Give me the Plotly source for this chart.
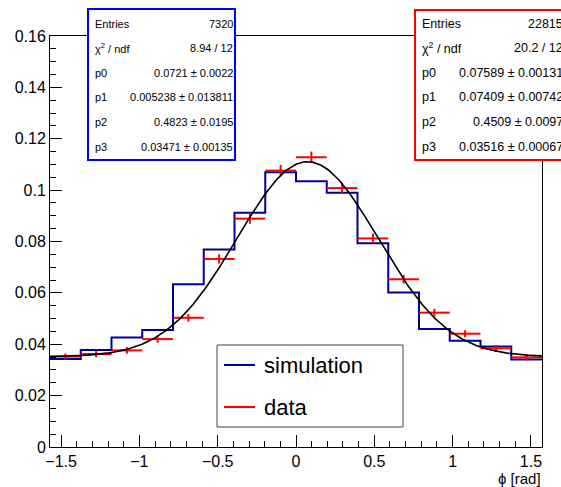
import numpy as np
import plotly.graph_objects as go

# ---------------- data ----------------
n_bins = 16
x_min, x_max = -np.pi / 2, np.pi / 2

simulation = [0.0343, 0.0378, 0.0426, 0.0455, 0.0634, 0.0769, 0.0912, 0.1070,
              0.1035, 0.0990, 0.0793, 0.0601, 0.0459, 0.0414, 0.0391, 0.0341]
data_vals = [0.0352, 0.0362, 0.0376, 0.0420, 0.0503, 0.0732, 0.0889, 0.1076,
             0.1128, 0.1008, 0.0812, 0.0653, 0.0523, 0.0441, 0.0384, 0.0349]
data_errs = [0.0012, 0.0013, 0.0013, 0.0014, 0.0015, 0.0018, 0.0020, 0.0022,
             0.0022, 0.0021, 0.0019, 0.0017, 0.0015, 0.0014, 0.0013, 0.0012]

# fit parameters (gaus + const) as printed in the stats boxes
fit_data = {"p0": 0.07589, "p1": 0.07409, "p2": 0.4509, "p3": 0.03516}

stats_sim = [("Entries", "7320"), ("χ<sup>2</sup> / ndf", "8.94 / 12"),
             ("p0", "0.0721 ± 0.0022"), ("p1", "0.005238 ± 0.013811"),
             ("p2", "0.4823 ± 0.0195"), ("p3", "0.03471 ± 0.00135")]
stats_data = [("Entries", "22815"), ("χ<sup>2</sup> / ndf", "20.2 / 12"),
              ("p0", "0.07589 ± 0.00131"), ("p1", "0.07409 ± 0.00742"),
              ("p2", "0.4509 ± 0.0097"), ("p3", "0.03516 ± 0.00067")]

y_ticks = [0, 0.02, 0.04, 0.06, 0.08, 0.1, 0.12, 0.14, 0.16]
y_tick_labels = ["0", "0.02", "0.04", "0.06", "0.08", "0.1", "0.12", "0.14", "0.16"]
x_ticks = [-1.5, -1, -0.5, 0, 0.5, 1, 1.5]
x_tick_labels = ["\u22121.5", "\u22121", "\u22120.5", "0", "0.5", "1", "1.5"]

# ---------------- derived ----------------
edges = np.linspace(x_min, x_max, n_bins + 1)
centers = 0.5 * (edges[:-1] + edges[1:])
half_w = [(edges[1] - edges[0]) / 2] * n_bins
xf = np.linspace(x_min, x_max, 300)
yf = fit_data["p0"] * np.exp(-0.5 * ((xf - fit_data["p1"]) / fit_data["p2"]) ** 2) + fit_data["p3"]

W, H = 561, 487
L, R, T, B = 50, 19, 36, 40
pw, ph = W - L - R, H - T - B


def px(x):
    return (x - L) / pw


def py(y):
    return (H - B - y) / ph


FONT = "Liberation Sans, Arial, Helvetica, sans-serif"
BLUE_H = "#000099"
BLUE_B = "#0000ff"
RED = "#ff0000"

fig = go.Figure()
fig.add_trace(go.Scatter(x=edges, y=list(simulation) + [simulation[-1]], mode="lines",
                         line=dict(color=BLUE_H, width=2, shape="hv"),
                         name="simulation", showlegend=False))
fig.add_trace(go.Scatter(x=centers, y=data_vals, mode="markers",
                         marker=dict(color=RED, size=1),
                         error_x=dict(type="data", array=half_w, color=RED, thickness=2, width=0),
                         error_y=dict(type="data", array=data_errs, color=RED, thickness=2, width=0),
                         name="data", showlegend=False))
fig.add_trace(go.Scatter(x=xf, y=yf, mode="lines", line=dict(color="black", width=1.6),
                         showlegend=False))

shapes = []
annotations = []


def stats_box(x0, x1, y0, y1, color, rows, lx, vx, fs):
    shapes.append(dict(type="rect", xref="paper", yref="paper", x0=px(x0), x1=px(x1),
                       y0=py(y1), y1=py(y0), line=dict(color=color, width=2),
                       fillcolor="white", layer="above"))
    ys = [24, 48.3, 72.7, 97.3, 121.7, 146.7]
    for (lab, val), yy in zip(rows, ys):
        annotations.append(dict(xref="paper", yref="paper", x=px(lx), y=py(yy), text=lab,
                                showarrow=False, xanchor="left", yanchor="middle",
                                font=dict(family=FONT, size=fs, color="black"), borderpad=0))
        annotations.append(dict(xref="paper", yref="paper", x=px(vx), y=py(yy), text=val,
                                showarrow=False, xanchor="right", yanchor="middle",
                                font=dict(family=FONT, size=fs, color="black"), borderpad=0))


stats_box(88, 235, 9, 160, BLUE_B, stats_sim, 94, 234, 11)
stats_box(415, 620, 10, 160, RED, stats_data, 421, 564, 12.5)

# legend box
shapes.append(dict(type="rect", xref="paper", yref="paper", x0=px(217), x1=px(403),
                   y0=py(427), y1=py(345), line=dict(color="#444444", width=1),
                   fillcolor="white", layer="above"))
for name, col, yy in [("simulation", BLUE_H, 365), ("data", RED, 407)]:
    shapes.append(dict(type="line", xref="paper", yref="paper", x0=px(224), x1=px(255),
                       y0=py(yy), y1=py(yy), line=dict(color=col, width=2), layer="above"))
    annotations.append(dict(xref="paper", yref="paper", x=px(262), y=py(yy), text=name,
                            showarrow=False, xanchor="left", yanchor="middle",
                            font=dict(family=FONT, size=22, color="black")))

# x axis title
annotations.append(dict(xref="paper", yref="paper", x=px(543), y=py(479), text="ϕ [rad]",
                        showarrow=False, xanchor="right", yanchor="middle",
                        font=dict(family=FONT, size=15, color="black")))

fig.update_layout(
    width=W, height=H, margin=dict(l=L, r=R, t=T, b=B),
    paper_bgcolor="white", plot_bgcolor="white",
    font=dict(family=FONT, size=16, color="black"),
    shapes=shapes, annotations=annotations, showlegend=False,
    xaxis=dict(range=[x_min, x_max], tickvals=x_ticks, ticktext=x_tick_labels,
               ticks="inside", ticklen=12, tickcolor="black", tickwidth=1,
               minor=dict(dtick=0.1, tick0=0, ticks="inside", ticklen=6, tickcolor="black", showgrid=False),
               showline=True, linecolor="black", linewidth=1, mirror=True,
               showgrid=False, zeroline=False, tickfont=dict(size=16)),
    yaxis=dict(range=[0, 0.16], tickvals=y_ticks, ticktext=y_tick_labels,
               ticks="inside", ticklen=12, tickcolor="black", tickwidth=1,
               minor=dict(dtick=0.005, tick0=0, ticks="inside", ticklen=6, tickcolor="black", showgrid=False),
               showline=True, linecolor="black", linewidth=1, mirror=True,
               showgrid=False, zeroline=False, tickfont=dict(size=16)),
)

fig.write_html("out.html", config={"displayModeBar": False},
               post_script="document.body.style.margin='0';document.body.style.overflow='hidden';")
